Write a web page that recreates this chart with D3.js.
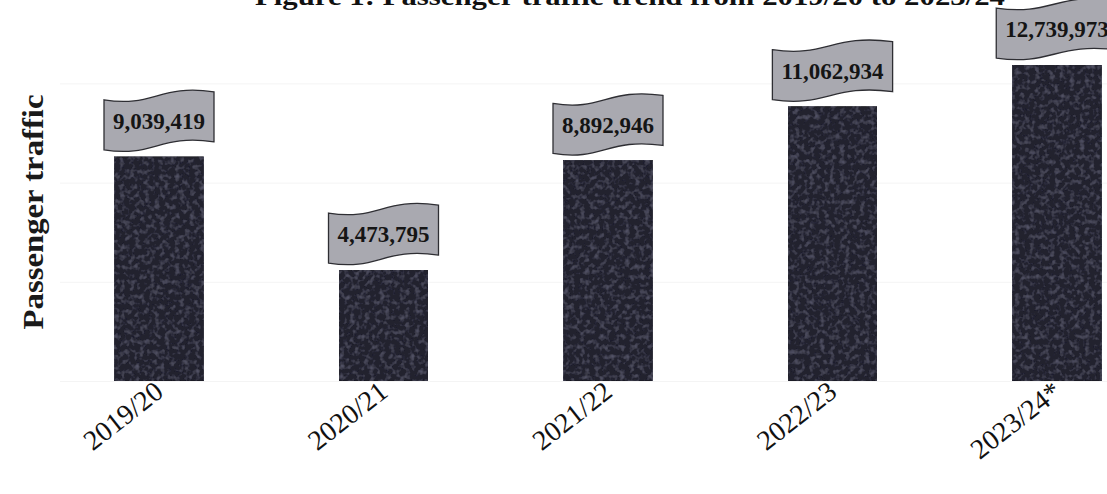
<!DOCTYPE html>
<html>
<head>
<meta charset="utf-8">
<script src="https://cdn.jsdelivr.net/npm/d3@7"></script>
<style>
  html, body { margin: 0; padding: 0; background: #fff; }
  svg { display: block; }
</style>
</head>
<body>
<svg id="chart" width="1107" height="494"></svg>
<script>
// Passenger traffic per financial year
const years = ["2019/20", "2020/21", "2021/22", "2022/23", "2023/24*"];
const traffic = [9039419, 4473795, 8892946, 11062934, 12739973];
const gridValues = [0, 4000000, 8000000, 12000000];
const titleText = "Figure 1: Passenger traffic trend from 2019/20 to 2023/24";
const yTitle = "Passenger traffic";

const W = 1107, H = 494;
const svg = d3.select("#chart");

const x = d3.scaleBand()
  .domain(years)
  .range([46.75, 1169.25])
  .paddingInner(0.604)
  .paddingOuter(0.302);

const y = d3.scaleLinear()
  .domain([0, 14000000])
  .range([381, 381 - 24.8 * 14]);

// grain texture for the bars
const defs = svg.append("defs");
const f = defs.append("filter").attr("id", "grain")
  .attr("x", 0).attr("y", 0).attr("width", "100%").attr("height", "100%");
f.append("feTurbulence").attr("type", "fractalNoise").attr("baseFrequency", 0.2)
  .attr("numOctaves", 2).attr("seed", 7).attr("result", "n");
f.append("feColorMatrix").attr("in", "n").attr("type", "matrix")
  .attr("values", "0 0 0 0 0.2  0 0 0 0 0.2  0 0 0 0 0.3  0 0 0 0.9 -0.42")
  .attr("result", "nc");
f.append("feComposite").attr("in", "nc").attr("in2", "SourceGraphic")
  .attr("operator", "in").attr("result", "clip");
const m = f.append("feMerge");
m.append("feMergeNode").attr("in", "SourceGraphic");
m.append("feMergeNode").attr("in", "clip");

// faint horizontal gridlines
svg.append("g").selectAll("line").data(gridValues).join("line")
  .attr("x1", 60).attr("x2", W)
  .attr("y1", d => y(d) + 0.5).attr("y2", d => y(d) + 0.5)
  .attr("stroke", "#f4f4f4").attr("stroke-width", 1);

// title (runs off the top edge)
svg.append("text")
  .attr("x", 630).attr("y", 5)
  .attr("text-anchor", "middle")
  .attr("font-family", "Liberation Serif, serif")
  .attr("font-weight", "bold")
  .attr("font-size", 26)
  .attr("textLength", 750)
  .attr("lengthAdjust", "spacingAndGlyphs")
  .attr("fill", "#111")
  .text(titleText);

// y-axis title
svg.append("text")
  .attr("transform", "translate(43,212) rotate(-90)")
  .attr("text-anchor", "middle")
  .attr("font-family", "Liberation Serif, serif")
  .attr("font-weight", "bold")
  .attr("font-size", 29)
  .attr("textLength", 235)
  .attr("lengthAdjust", "spacingAndGlyphs")
  .attr("fill", "#1a1a1a")
  .text(yTitle);

const data = years.map((yr, i) => ({ yr, v: traffic[i] }));

// bars
svg.append("g").selectAll("rect").data(data).join("rect")
  .attr("x", d => x(d.yr))
  .attr("y", d => y(d.v))
  .attr("width", x.bandwidth())
  .attr("height", d => y(0) - y(d.v))
  .attr("fill", "#24242d")
  .attr("stroke", "#1a1a22")
  .attr("stroke-width", 0.8)
  .attr("filter", "url(#grain)");

// wave-shaped value labels
const fmt = d3.format(",");
const labels = svg.append("g").selectAll("g").data(data).join("g")
  .attr("transform", d => `translate(${x(d.yr) + x.bandwidth() / 2},${y(d.v) - 36})`);

function wavePath(w, h, a) {
  const x0 = -w / 2, x1 = w / 2, yt = -h / 2, yb = h / 2;
  return `M${x0},${yt + a}` +
    `C${x0 + 0.45 * w},${yt + 3 * a} ${x0 + 0.5 * w},${yt - 3 * a} ${x1},${yt - a}` +
    `L${x1},${yb - a}` +
    `C${x0 + 0.5 * w},${yb - 3 * a} ${x0 + 0.45 * w},${yb + 3 * a} ${x0},${yb + a}Z`;
}

labels.each(function (d) {
  const g = d3.select(this);
  const t = g.append("text")
    .attr("text-anchor", "middle")
    .attr("dy", "0.35em")
    .attr("font-family", "Liberation Serif, serif")
    .attr("font-weight", "bold")
    .attr("font-size", 23)
    .attr("fill", "#151515")
    .text(fmt(d.v));
  const tw = t.node().getComputedTextLength();
  g.insert("path", "text")
    .attr("d", wavePath(tw + 18, 50, 4))
    .attr("fill", "#a9a9b0")
    .attr("stroke", "#2e2e33")
    .attr("stroke-width", 1.3);
});

// rotated category labels
svg.append("g").selectAll("text").data(years).join("text")
  .attr("transform", d => `translate(${x(d) + x.bandwidth() / 2 + 6},${395}) rotate(-38)`)
  .attr("text-anchor", "end")
  .attr("font-family", "Liberation Serif, serif")
  .attr("font-size", 28)
  .attr("fill", "#111")
  .text(d => d);
</script>
</body>
</html>
